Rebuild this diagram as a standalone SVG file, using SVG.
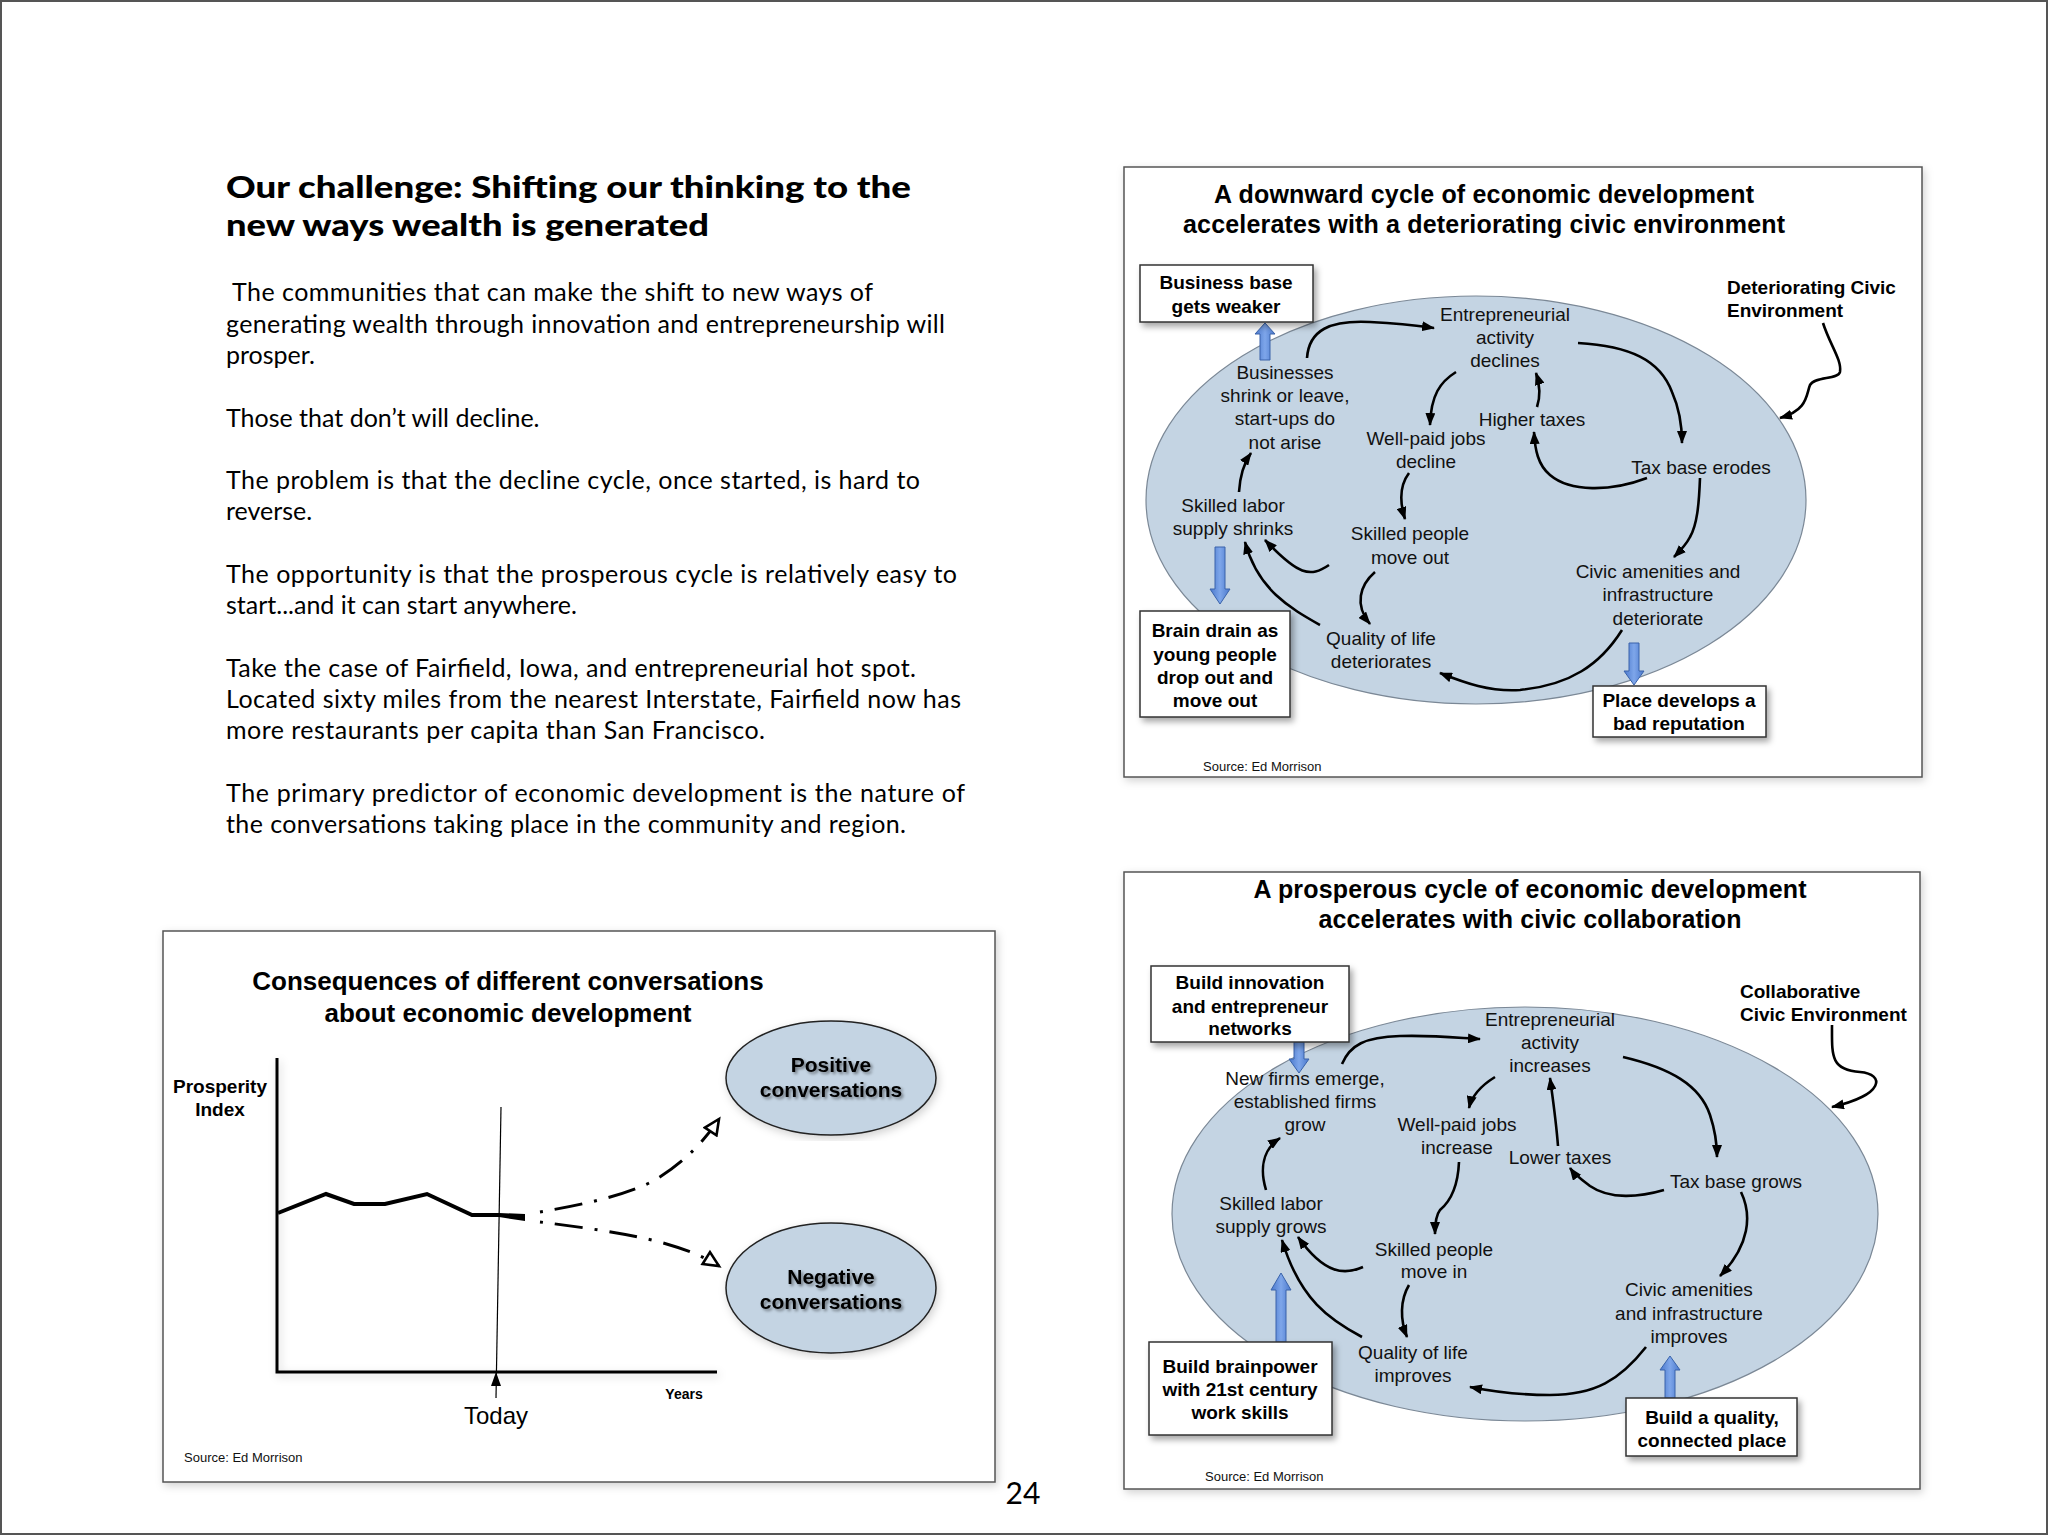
<svg xmlns="http://www.w3.org/2000/svg" width="2048" height="1536" viewBox="0 0 2048 1536">
<defs>
<style>
.body{font-family:Lato,"Gill Sans","Open Sans",sans-serif;font-size:25px;fill:#000}
.ttl{font-family:Lato,"Gill Sans",sans-serif;font-size:30px;font-weight:900;fill:#000}
.ct{font-family:"Liberation Sans",Arial,sans-serif;font-size:19px;fill:#111;text-anchor:middle}
.cb{font-family:"Liberation Sans",Arial,sans-serif;font-size:19px;font-weight:700;fill:#000;text-anchor:middle}
.cbl{font-family:"Liberation Sans",Arial,sans-serif;font-size:19px;font-weight:700;fill:#000}
.pt{font-family:"Liberation Sans",Arial,sans-serif;font-size:25px;font-weight:700;fill:#000;text-anchor:middle}
.src{font-family:"Liberation Sans",Arial,sans-serif;font-size:13px;fill:#111}
.frame{fill:#fff;stroke:#555;stroke-width:1.5}
.box{fill:#fff;stroke:#333;stroke-width:1.5}
.cyc{fill:#c4d4e3;stroke:#7b8896;stroke-width:1.2}
.conv{fill:#c4d4e3;stroke:#222;stroke-width:1.5}
.arr{fill:none;stroke:#000;stroke-width:2.6;marker-end:url(#ah)}
.blue{fill:url(#bg);stroke:#3a63aa;stroke-width:1}
.dd{fill:none;stroke:#000;stroke-width:3;stroke-dasharray:3 12 28 12;marker-end:url(#oh)}
</style>
<linearGradient id="bg" x1="0" y1="0" x2="1" y2="0">
<stop offset="0" stop-color="#4a78cc"/><stop offset="0.5" stop-color="#7ea6ea"/><stop offset="1" stop-color="#4a78cc"/>
</linearGradient>
<filter id="sh" x="-20%" y="-20%" width="140%" height="150%"><feDropShadow dx="3" dy="4" stdDeviation="3" flood-color="#000" flood-opacity="0.35"/></filter>
<filter id="fsh" x="-5%" y="-5%" width="110%" height="110%"><feDropShadow dx="2" dy="3" stdDeviation="4" flood-color="#000" flood-opacity="0.18"/></filter>
<filter id="tsh" x="-10%" y="-30%" width="120%" height="160%"><feDropShadow dx="2" dy="2" stdDeviation="1.5" flood-color="#000" flood-opacity="0.45"/></filter>
<marker id="ah" viewBox="0 0 13 10" refX="12" refY="5" markerWidth="13" markerHeight="10" markerUnits="userSpaceOnUse" orient="auto"><path d="M0,0 L13,5 L0,10 Z" fill="#000"/></marker>
<marker id="oh" viewBox="0 0 20 18" refX="17" refY="9" markerWidth="20" markerHeight="18" markerUnits="userSpaceOnUse" orient="auto"><path d="M2,2 L17,9 L2,16 Z" fill="#fff" stroke="#000" stroke-width="2.6"/></marker>
</defs>
<rect x="0" y="0" width="2048" height="1536" fill="#fff"/>
<rect x="1" y="1" width="2046" height="1533" fill="none" stroke="#555" stroke-width="2"/>

<g id="left-text">
<text class="ttl" x="226" y="198" textLength="685" lengthAdjust="spacingAndGlyphs">Our challenge: Shifting our thinking to the</text>
<text class="ttl" x="226" y="236" textLength="483" lengthAdjust="spacingAndGlyphs">new ways wealth is generated</text>
<text class="body" x="232" y="301" textLength="641">The communities that can make the shift to new ways of</text>
<text class="body" x="226" y="333" textLength="719">generating wealth through innovation and entrepreneurship will</text>
<text class="body" x="226" y="364">prosper.</text>
<text class="body" x="226" y="427">Those that don’t will decline.</text>
<text class="body" x="226" y="489" textLength="694">The problem is that the decline cycle, once started, is hard to</text>
<text class="body" x="226" y="520">reverse.</text>
<text class="body" x="226" y="583" textLength="731">The opportunity is that the prosperous cycle is relatively easy to</text>
<text class="body" x="226" y="614">start...and it can start anywhere.</text>
<text class="body" x="226" y="677" textLength="690">Take the case of Fairfield, Iowa, and entrepreneurial hot spot.</text>
<text class="body" x="226" y="708" textLength="735">Located sixty miles from the nearest Interstate, Fairfield now has</text>
<text class="body" x="226" y="739" textLength="539">more restaurants per capita than San Francisco.</text>
<text class="body" x="226" y="802" textLength="739">The primary predictor of economic development is the nature of</text>
<text class="body" x="226" y="833" textLength="680">the conversations taking place in the community and region.</text>
</g>
<g id="page-number"><text x="1023" y="1504" text-anchor="middle" style="font-family:Lato,'Gill Sans',sans-serif;font-size:30px;fill:#000">24</text></g>

<!-- Top-right panel: downward cycle -->
<g id="panel-down">
<rect class="frame" x="1124" y="167" width="798" height="610" filter="url(#fsh)"/>
<text class="pt" x="1484" y="203" textLength="540">A downward cycle of economic development</text>
<text class="pt" x="1484" y="233" textLength="602">accelerates with a deteriorating civic environment</text>
<ellipse class="cyc" cx="1476" cy="500" rx="330" ry="204"/>
<text class="src" x="1203" y="771">Source: Ed Morrison</text>
</g>
<g id="connectors-down">
<path class="arr" d="M1307,358 C1309,330 1330,320 1370,322 S1420,326 1434,328"/>
<path class="arr" d="M1578,343 C1630,346 1660,360 1672,392 C1680,410 1682,425 1682,443"/>
<path class="arr" d="M1456,372 C1440,382 1431,395 1430,425"/>
<path class="arr" d="M1537,407 C1541,395 1540,385 1536,373"/>
<path class="arr" d="M1647,478 C1610,492 1570,492 1550,475 C1538,465 1535,450 1534,432"/>
<path class="arr" d="M1700,478 C1699,505 1697,525 1690,537 C1686,545 1680,551 1674,557"/>
<path class="arr" d="M1622,630 C1600,665 1570,685 1520,690 C1490,692 1465,683 1440,673"/>
<path class="arr" d="M1409,473 C1400,485 1399,500 1405,519"/>
<path class="arr" d="M1375,572 C1360,585 1354,605 1370,624"/>
<path class="arr" d="M1320,625 C1290,608 1258,590 1245,542"/>
<path class="arr" d="M1329,565 C1310,578 1298,575 1265,540"/>
<path class="arr" d="M1239,492 C1240,475 1244,463 1251,453"/>
<path class="arr" d="M1823,323 C1830,345 1842,360 1840,372 C1838,380 1815,376 1810,385 C1806,395 1808,410 1780,418"/>
<polygon class="blue" points="1265,323 1275,334 1270,334 1270,360 1260,360 1260,334 1255,334"/>
<polygon class="blue" points="1215,547 1225,547 1225,589 1230,589 1220,604 1210,589 1215,589"/>
<polygon class="blue" points="1629,643 1639,643 1639,671 1644,671 1634,685 1624,671 1629,671"/>
</g>
<g id="n-entre-d"><text class="ct" x="1505" y="321">Entrepreneurial</text><text class="ct" x="1505" y="344">activity</text><text class="ct" x="1505" y="367">declines</text></g>
<g id="n-business-d"><text class="ct" x="1285" y="379">Businesses</text><text class="ct" x="1285" y="402">shrink or leave,</text><text class="ct" x="1285" y="425">start-ups do</text><text class="ct" x="1285" y="449">not arise</text></g>
<g id="n-taxes-d"><text class="ct" x="1532" y="426">Higher taxes</text></g>
<g id="n-jobs-d"><text class="ct" x="1426" y="445">Well-paid jobs</text><text class="ct" x="1426" y="468">decline</text></g>
<g id="n-taxbase-d"><text class="ct" x="1701" y="474">Tax base erodes</text></g>
<g id="n-labor-d"><text class="ct" x="1233" y="512">Skilled labor</text><text class="ct" x="1233" y="535">supply shrinks</text></g>
<g id="n-people-d"><text class="ct" x="1410" y="540">Skilled people</text><text class="ct" x="1410" y="564">move out</text></g>
<g id="n-civic-d"><text class="ct" x="1658" y="578">Civic amenities and</text><text class="ct" x="1658" y="601">infrastructure</text><text class="ct" x="1658" y="625">deteriorate</text></g>
<g id="n-quality-d"><text class="ct" x="1381" y="645">Quality of life</text><text class="ct" x="1381" y="668">deteriorates</text></g>
<g id="n-env-d"><text class="cbl" x="1727" y="294">Deteriorating Civic</text><text class="cbl" x="1727" y="317">Environment</text></g>
<g id="n-box-business"><rect class="box" x="1140" y="265" width="173" height="57" filter="url(#sh)"/><text class="cb" x="1226" y="289">Business base</text><text class="cb" x="1226" y="313">gets weaker</text></g>
<g id="n-box-brain"><rect class="box" x="1140" y="611" width="150" height="106" filter="url(#sh)"/><text class="cb" x="1215" y="637">Brain drain as</text><text class="cb" x="1215" y="661">young people</text><text class="cb" x="1215" y="684">drop out and</text><text class="cb" x="1215" y="707">move out</text></g>
<g id="n-box-place"><rect class="box" x="1593" y="686" width="173" height="51" filter="url(#sh)"/><text class="cb" x="1679" y="707">Place develops a</text><text class="cb" x="1679" y="730">bad reputation</text></g>

<!-- Bottom-right panel: prosperous cycle -->
<g id="panel-up">
<rect class="frame" x="1124" y="872" width="796" height="617" filter="url(#fsh)"/>
<text class="pt" x="1530" y="898" textLength="553">A prosperous cycle of economic development</text>
<text class="pt" x="1530" y="928" textLength="423">accelerates with civic collaboration</text>
<ellipse class="cyc" cx="1525" cy="1214" rx="353" ry="207"/>
<text class="src" x="1205" y="1481">Source: Ed Morrison</text>
</g>
<g id="connectors-up">
<path class="arr" d="M1342,1064 C1350,1045 1365,1037 1400,1036 S1460,1038 1480,1039"/>
<path class="arr" d="M1623,1057 C1670,1068 1700,1085 1710,1115 C1715,1130 1717,1145 1717,1157"/>
<path class="arr" d="M1495,1077 C1482,1085 1472,1095 1469,1108"/>
<path class="arr" d="M1558,1146 C1556,1120 1553,1100 1550,1078"/>
<path class="arr" d="M1664,1190 C1640,1197 1610,1200 1590,1186 C1582,1180 1575,1175 1570,1168"/>
<path class="arr" d="M1741,1192 C1752,1215 1750,1245 1720,1276"/>
<path class="arr" d="M1646,1347 C1620,1380 1595,1395 1550,1395 C1520,1395 1495,1392 1470,1387"/>
<path class="arr" d="M1459,1162 C1458,1185 1452,1200 1440,1210 C1436,1215 1435,1225 1435,1234"/>
<path class="arr" d="M1409,1285 C1400,1300 1400,1320 1407,1337"/>
<path class="arr" d="M1362,1337 C1330,1320 1300,1300 1282,1240"/>
<path class="arr" d="M1363,1267 C1345,1275 1325,1275 1298,1237"/>
<path class="arr" d="M1266,1190 C1260,1170 1262,1150 1280,1138"/>
<path class="arr" d="M1832,1025 C1832,1055 1830,1070 1860,1072 C1885,1074 1885,1095 1832,1107"/>
<polygon class="blue" points="1294,1042 1304,1042 1304,1059 1309,1059 1299,1073 1289,1059 1294,1059"/>
<polygon class="blue" points="1281,1273 1291,1290 1286,1290 1286,1342 1276,1342 1276,1290 1271,1290"/>
<polygon class="blue" points="1670,1356 1680,1370 1675,1370 1675,1398 1665,1398 1665,1370 1660,1370"/>
</g>
<g id="n-entre-u"><text class="ct" x="1550" y="1026">Entrepreneurial</text><text class="ct" x="1550" y="1049">activity</text><text class="ct" x="1550" y="1072">increases</text></g>
<g id="n-firms-u"><text class="ct" x="1305" y="1085">New firms emerge,</text><text class="ct" x="1305" y="1108">established firms</text><text class="ct" x="1305" y="1131">grow</text></g>
<g id="n-jobs-u"><text class="ct" x="1457" y="1131">Well-paid jobs</text><text class="ct" x="1457" y="1154">increase</text></g>
<g id="n-taxes-u"><text class="ct" x="1560" y="1164">Lower taxes</text></g>
<g id="n-taxbase-u"><text class="ct" x="1736" y="1188">Tax base grows</text></g>
<g id="n-labor-u"><text class="ct" x="1271" y="1210">Skilled labor</text><text class="ct" x="1271" y="1233">supply grows</text></g>
<g id="n-people-u"><text class="ct" x="1434" y="1256">Skilled people</text><text class="ct" x="1434" y="1278">move in</text></g>
<g id="n-civic-u"><text class="ct" x="1689" y="1296">Civic amenities</text><text class="ct" x="1689" y="1320">and infrastructure</text><text class="ct" x="1689" y="1343">improves</text></g>
<g id="n-quality-u"><text class="ct" x="1413" y="1359">Quality of life</text><text class="ct" x="1413" y="1382">improves</text></g>
<g id="n-env-u"><text class="cbl" x="1740" y="998">Collaborative</text><text class="cbl" x="1740" y="1021">Civic Environment</text></g>
<g id="n-box-innov"><rect class="box" x="1151" y="966" width="198" height="76" filter="url(#sh)"/><text class="cb" x="1250" y="989">Build innovation</text><text class="cb" x="1250" y="1013">and entrepreneur</text><text class="cb" x="1250" y="1035">networks</text></g>
<g id="n-box-brainpower"><rect class="box" x="1149" y="1342" width="183" height="93" filter="url(#sh)"/><text class="cb" x="1240" y="1373">Build brainpower</text><text class="cb" x="1240" y="1396">with 21st century</text><text class="cb" x="1240" y="1419">work skills</text></g>
<g id="n-box-place-u"><rect class="box" x="1626" y="1398" width="171" height="58" filter="url(#sh)"/><text class="cb" x="1712" y="1424">Build a quality,</text><text class="cb" x="1712" y="1447">connected place</text></g>

<!-- Bottom-left panel: consequences chart -->
<g id="panel-chart">
<rect class="frame" x="163" y="931" width="832" height="551" filter="url(#fsh)"/>
<text class="pt" x="508" y="990" style="font-size:26px">Consequences of different conversations</text>
<text class="pt" x="508" y="1022" style="font-size:26px">about economic development</text>
<g filter="url(#fsh)"><path d="M277,1058 L277,1372 L717,1372" fill="none" stroke="#000" stroke-width="3"/></g>
<text class="cb" x="220" y="1093">Prosperity</text>
<text class="cb" x="220" y="1116">Index</text>
<text x="684" y="1399" text-anchor="middle" style="font-family:'Liberation Sans',Arial,sans-serif;font-size:14px;font-weight:700">Years</text>
<polyline points="278,1213 326,1194 354,1204 385,1204 427,1194 472,1215 500,1215" fill="none" stroke="#000" stroke-width="4" stroke-linejoin="miter"/>
<polygon points="499,1213 525,1214 525,1221 499,1217" fill="#000"/>
<line x1="501" y1="1107" x2="496" y2="1398" stroke="#000" stroke-width="1.2"/>
<path d="M496,1372 L491,1386 L501,1386 Z" fill="#000"/>
<text x="496" y="1424" text-anchor="middle" style="font-family:'Liberation Sans',Arial,sans-serif;font-size:24px">Today</text>
<text class="src" x="184" y="1462">Source: Ed Morrison</text>
</g>
<g id="connectors-chart">
<path class="dd" d="M540,1212 C580,1205 625,1196 655,1180 C685,1162 705,1140 719,1119"/>
<path class="dd" d="M540,1222 C580,1227 625,1233 660,1242 C685,1249 703,1256 719,1266"/>
</g>
<g id="n-positive"><ellipse class="conv" cx="831" cy="1078" rx="105" ry="57" filter="url(#fsh)"/><text class="cb" x="831" y="1072" style="font-size:21px" filter="url(#tsh)">Positive</text><text class="cb" x="831" y="1097" style="font-size:21px" filter="url(#tsh)">conversations</text></g>
<g id="n-negative"><ellipse class="conv" cx="831" cy="1288" rx="105" ry="65" filter="url(#fsh)"/><text class="cb" x="831" y="1284" style="font-size:21px" filter="url(#tsh)">Negative</text><text class="cb" x="831" y="1309" style="font-size:21px" filter="url(#tsh)">conversations</text></g>
</svg>
